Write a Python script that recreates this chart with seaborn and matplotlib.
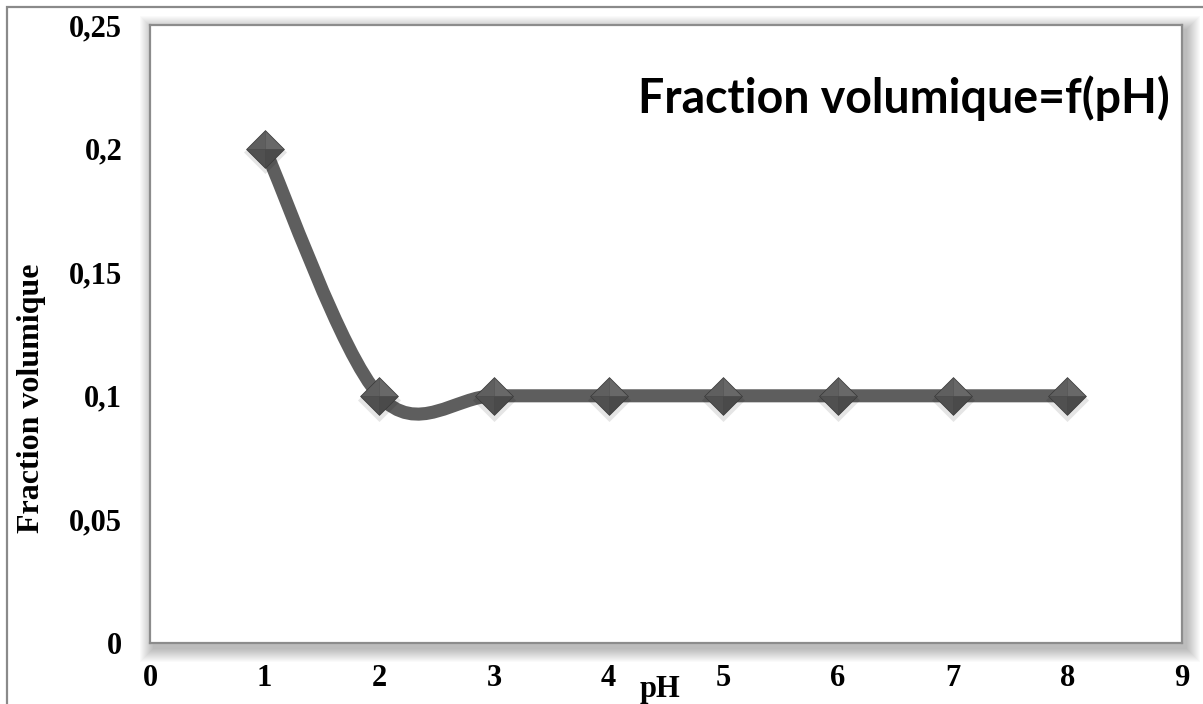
import numpy as np
import matplotlib
matplotlib.use("Agg")
import matplotlib.pyplot as plt
from matplotlib.path import Path
from matplotlib.patches import PathPatch, Rectangle
import seaborn as sns

# pH values and measured volume fraction
ph = [1, 2, 3, 4, 5, 6, 7, 8]
fraction = [0.2, 0.1, 0.1, 0.1, 0.1, 0.1, 0.1, 0.1]
x_ticks = [0, 1, 2, 3, 4, 5, 6, 7, 8, 9]
y_ticks = [0, 0.05, 0.1, 0.15, 0.2, 0.25]
y_tick_labels = ["0", "0,05", "0,1", "0,15", "0,2", "0,25"]
title = "Fraction volumique=f(pH)"

sns.set_theme(style="white")
plt.rcParams["font.family"] = ["Liberation Serif", "DejaVu Serif"]
plt.rcParams["text.color"] = "black"
plt.rcParams["axes.labelcolor"] = "black"
plt.rcParams["xtick.color"] = "black"
plt.rcParams["ytick.color"] = "black"

W, H = 1203, 704
fig = plt.figure(figsize=(W / 100, H / 100), dpi=100)
fig.patch.set_facecolor("white")

L, T, R, B = 150, 25, 1182, 643
ax = fig.add_axes([L / W, 1 - B / H, (R - L) / W, (B - T) / H])
ax.set_facecolor("white")
ax.set_zorder(2)

# outer frame of the chart object
fig.patches.append(Rectangle((7 / W, -0.05), 1.2, 1 - 7 / H + 0.05,
                             transform=fig.transFigure, fill=False,
                             edgecolor="#8a8a8a", linewidth=1.6, zorder=0))

# soft drop shadow around the plot area
for i in range(14):
    grow = 14 - i
    fig.patches.append(Rectangle(((L - grow + 4) / W, 1 - (B + grow + 5) / H),
                                 (R - L + 2 * grow) / W, (B - T + 2 * grow) / H,
                                 transform=fig.transFigure, facecolor="black",
                                 edgecolor="none", alpha=0.02, zorder=0.5))

# smoothed curve through the points (cubic Bezier segments)
pts = np.column_stack([ph, fraction]).astype(float)
n = len(pts)
verts = [pts[0]]
codes = [Path.MOVETO]
for i in range(n - 1):
    p_prev = pts[i - 1] if i > 0 else pts[i]
    p0, p1 = pts[i], pts[i + 1]
    p_next = pts[i + 2] if i + 2 < n else pts[i + 1]
    c1 = p0 + (p1 - p_prev) / 6
    c2 = p1 - (p_next - p0) / 6
    verts += [c1, c2, p1]
    codes += [Path.CURVE4] * 3
ax.add_patch(PathPatch(Path(verts, codes), facecolor="none", edgecolor="#5e5e5e",
                       linewidth=9.4, capstyle="round", joinstyle="round", zorder=2))

# diamond markers with shaded faces
diamond = [(0, 1), (1, 0), (0, -1), (-1, 0), (0, 1)]
faces = [
    ([(0, 0), (-1, 0), (0, 1), (0, 0)], "#5f5f5f"),
    ([(0, 0), (0, 1), (1, 0), (0, 0)], "#686868"),
    ([(0, 0), (1, 0), (0, -1), (0, 0)], "#4a4a4a"),
    ([(0, 0), (0, -1), (-1, 0), (0, 0)], "#505050"),
]
shadow_y = [v - 0.0015 for v in fraction]
sns.scatterplot(x=ph, y=shadow_y, marker=diamond, s=(31 ** 2), color="black",
                alpha=0.10, linewidth=0, ax=ax, zorder=3)
sns.scatterplot(x=ph, y=fraction, marker=diamond, s=(28 ** 2), color="#3a3a3a",
                linewidth=0, ax=ax, zorder=4)
for verts_f, col in faces:
    sns.scatterplot(x=ph, y=fraction, marker=verts_f, s=(26.5 ** 2), color=col,
                    linewidth=0, ax=ax, zorder=5)

ax.set_xlim(0, 9)
ax.set_ylim(0, 0.25)
ax.set_xticks(x_ticks)
ax.set_xticklabels([str(v) for v in x_ticks], fontweight="bold", fontsize=22)
ax.set_yticks(y_ticks)
ax.set_yticklabels(y_tick_labels, fontweight="bold", fontsize=22)
ax.tick_params(axis="both", length=0, labelcolor="black")
ax.tick_params(axis="x", pad=15)
ax.tick_params(axis="y", pad=20)
ax.grid(False)
for sp in ax.spines.values():
    sp.set_color("#8c8c8c")
    sp.set_linewidth(1.6)

ax.set_ylabel("Fraction volumique", fontweight="bold", fontsize=23, color="black")
ax.yaxis.set_label_coords((46 - L) / (R - L), (B - 398) / (B - T))
fig.text(660 / W, 1 - 690 / H, "pH", ha="center", va="center",
         fontweight="bold", fontsize=22, color="black")

fig.text(1170 / W, 1 - 98 / H, title, ha="right", va="center", color="black",
         fontsize=33.5, fontweight="bold", family=["Lato", "DejaVu Sans"])

fig.savefig("out.png", dpi=100, facecolor="white")
